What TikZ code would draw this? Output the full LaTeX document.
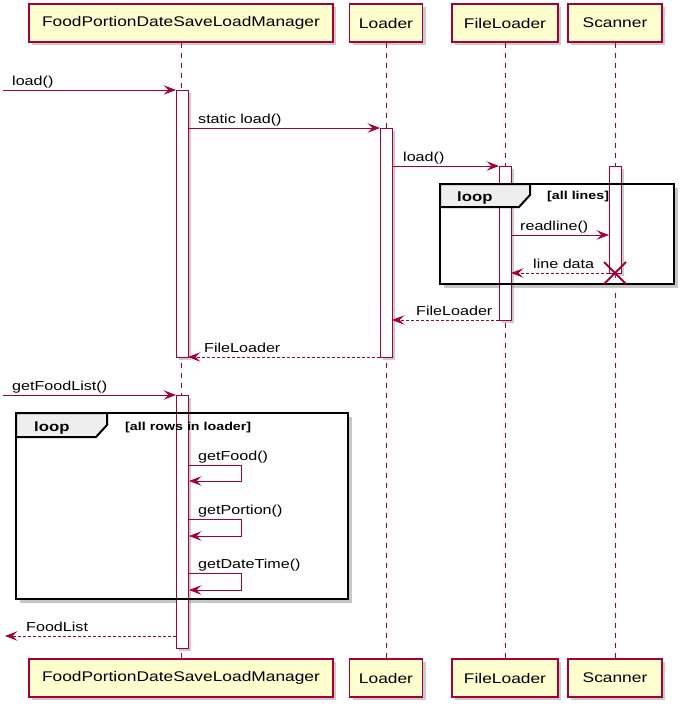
\documentclass[tikz,border=0pt]{standalone}
\usepackage{fontspec}
\setmainfont{Liberation Sans}[FakeStretch=1.24]
\usetikzlibrary{arrows.meta,shadows,calc}
\definecolor{pred}{HTML}{A80036}
\definecolor{pfill}{HTML}{FEFECE}
\definecolor{tabfill}{HTML}{EEEEEE}
\tikzset{
  participant/.style={draw=pred, fill=pfill, line width=1.2pt, minimum height=38pt, inner sep=0pt,
    font=\fontsize{14}{16}\selectfont,
    drop shadow={shadow xshift=3pt, shadow yshift=-3pt, fill=black!40, opacity=.5}},
  lifeline/.style={draw=pred, line width=0.8pt, dash pattern=on 5pt off 5pt},
  actbar/.style={draw=pred, fill=white, line width=1pt,
    drop shadow={shadow xshift=2.5pt, shadow yshift=-2.5pt, fill=black!40, opacity=.5}},
  msg/.style={draw=pred, line width=0.9pt, -{Stealth[length=12.5pt,width=9.5pt,inset=5pt]}},
  ret/.style={msg, dash pattern=on 3pt off 2pt},
  lbl/.style={anchor=base west, inner sep=0pt, font=\fontsize{13}{15}\selectfont},
  frame/.style={draw=black, line width=2pt},
  fshadow/.style={draw=black!22, line width=3pt},
  looplbl/.style={anchor=base west, inner sep=0pt, font=\fontsize{13.5}{15}\selectfont\bfseries},
  guard/.style={anchor=base west, inner sep=0pt, font=\fontsize{11.5}{13}\selectfont\bfseries},
  cross/.style={draw=pred, line width=2pt}
}
\begin{document}
\begin{tikzpicture}[x=1pt,y=-1pt]
\useasboundingbox[fill=white] (0,0) rectangle (685,710);

% participants
\node[participant, minimum width=304pt] (mgr) at (181,23) {FoodPortionDateSaveLoadManager};
\node[participant, minimum width=73pt] (ldr) at (386,23) {Loader};
\node[participant, minimum width=106pt] (fl) at (505,23) {FileLoader};
\node[participant, minimum width=94pt] (sc) at (615,23) {Scanner};
\node[participant, minimum width=304pt] (mgrb) at (181,678) {FoodPortionDateSaveLoadManager};
\node[participant, minimum width=73pt] (ldrb) at (386,678) {Loader};
\node[participant, minimum width=106pt] (flb) at (505,678) {FileLoader};
\node[participant, minimum width=94pt] (scb) at (615,678) {Scanner};

% lifelines
\draw[lifeline] (mgr.south) -- (mgrb.north);
\draw[lifeline] (ldr.south) -- (ldrb.north);
\draw[lifeline] (fl.south) -- (flb.north);
\draw[lifeline] (sc.south) -- (scb.north);

% frame shadows
\draw[fshadow] (676.5,188) -- (676.5,286.5) -- (444,286.5);
\draw[fshadow] (350.5,417) -- (350.5,601.5) -- (20,601.5);

% activation bars
\draw[actbar] (176,90) rectangle (188,357);
\draw[actbar] (380,128) rectangle (392,357);
\draw[actbar] (499,166) rectangle (511,320);
\draw[actbar] (609,166) rectangle (621,273);
\draw[actbar] (176,395) rectangle (188,648);

% loop frame 1
\draw[frame, fill=tabfill] (440,184) -- (530,184) -- (530,195) -- (519,207) -- (440,207) -- cycle;
\draw[frame] (440,184) rectangle (674,284);
\node[looplbl] (loop1) at (457,201) {loop};
\node[guard] (guard1) at (547,199) {[all lines]};

% loop frame 2
\draw[frame, fill=tabfill] (16,413) -- (107,413) -- (107,425) -- (96,437) -- (16,437) -- cycle;
\draw[frame] (16,413) rectangle (348,599);
\node[looplbl] (loop2) at (34,431) {loop};
\node[guard] (guard2) at (125,430) {[all rows in loader]};

% coordinates for messages
\coordinate (in1) at (3,90);
\coordinate (mgrA) at (176,90);
\coordinate (mgrR1) at (188,128);
\coordinate (ldrA) at (380,128);
\coordinate (ldrR1) at (392,166);
\coordinate (flA) at (499,166);
\coordinate (flR1) at (511,235);
\coordinate (scA) at (609,235);
\coordinate (scR2) at (609,273);
\coordinate (flR2) at (511,273);
\coordinate (flL) at (499,320);
\coordinate (ldrR2) at (392,320);
\coordinate (ldrL) at (380,357);
\coordinate (mgrR2) at (188,357);
\coordinate (in2) at (3,395);
\coordinate (mgrB) at (176,395);
\coordinate (s1) at (188,465);
\coordinate (s1e) at (189,481);
\coordinate (s2) at (188,519);
\coordinate (s2e) at (189,536);
\coordinate (s3) at (188,573);
\coordinate (s3e) at (189,590);
\coordinate (mgrL) at (176,636);
\coordinate (out) at (5,636);
\coordinate (dx) at (615,273);

% messages
\draw[msg] (in1) -- (mgrA);
\node[lbl] (t1) at (12,85.5) {load()};
\draw[msg] (mgrR1) -- (ldrA);
\node[lbl] (t2) at (198,123.5) {static load()};
\draw[msg] (ldrR1) -- (flA);
\node[lbl] (t3) at (403,161.5) {load()};
\draw[msg] (flR1) -- (scA);
\node[lbl] (t4) at (520,230.5) {readline()};
\draw[ret] (scR2) -- (flR2);
\node[lbl] (t5) at (533,268.5) {line data};
\draw[ret] (flL) -- (ldrR2);
\node[lbl] (t6) at (416,315.5) {FileLoader};
\draw[ret] (ldrL) -- (mgrR2);
\node[lbl] (t7) at (204,352.5) {FileLoader};
\draw[msg] (in2) -- (mgrB);
\node[lbl] (t8) at (12,390.5) {getFoodList()};
\draw[msg] (s1) -- ++(53,0) |- (s1e);
\node[lbl] (t9) at (198,460.5) {getFood()};
\draw[msg] (s2) -- ++(53,0) |- (s2e);
\node[lbl] (t10) at (198,514.5) {getPortion()};
\draw[msg] (s3) -- ++(53,0) |- (s3e);
\node[lbl] (t11) at (198,568.5) {getDateTime()};
\draw[ret] (mgrL) -- (out);
\node[lbl] (t12) at (26,631.5) {FoodList};

% destroy
\draw[cross] ($(dx)+(-11,-11)$) -- ($(dx)+(11,11)$);
\draw[cross] ($(dx)+(-11,11)$) -- ($(dx)+(11,-11)$);
\end{tikzpicture}
\end{document}
